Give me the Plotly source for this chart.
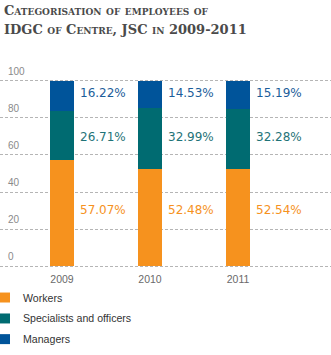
import plotly.graph_objects as go

# Share of each staff category by year, %
years = ["2009", "2010", "2011"]
workers = [57.07, 52.48, 52.54]
specialists = [26.71, 32.99, 32.28]
managers = [16.22, 14.53, 15.19]
y_ticks = [0, 20, 40, 60, 80, 100]

series_names = ["Workers", "Specialists and officers", "Managers"]
series_values = [workers, specialists, managers]
series_colors = ["#F6921E", "#006B71", "#00549A"]
label_colors = ["#F6921E", "#1F7378", "#1C5D9A"]
# vertical placement (in axis units) of the value labels for each series
label_levels = [30.5, 69.7, 93.3]

title_lines = ["Categorisation of employees of", "IDGC of Centre, JSC in 2009-2011"]

W, H = 331, 355
Y_MIN, Y_MAX = -2, 102
PX_PER_UNIT = 1.86
ZERO_PX = 266.7
PLOT_TOP = ZERO_PX - Y_MAX * PX_PER_UNIT
PLOT_BOTTOM = ZERO_PX - Y_MIN * PX_PER_UNIT


def paper_y(py):
    return (PLOT_BOTTOM - py) / (PLOT_BOTTOM - PLOT_TOP)


fig = go.Figure()
for name, vals, col in zip(series_names, series_values, series_colors):
    fig.add_trace(go.Bar(
        x=years, y=vals, name=name, marker=dict(color=col, line=dict(width=0)),
        width=0.273, showlegend=False, hoverinfo="skip",
    ))

annotations = []
for vals, col, lvl in zip(series_values, label_colors, label_levels):
    for i, v in enumerate(vals):
        annotations.append(dict(
            x=i, y=lvl, xref="x", yref="y", text=f"{v:.2f}%",
            showarrow=False, xanchor="left", yanchor="middle", xshift=16,
            font=dict(family="DejaVu Sans", size=12, color=col),
        ))

# y-axis labels sit just above their gridlines at the left edge
for t in y_ticks:
    annotations.append(dict(
        x=6 / W, y=t, xref="paper", yref="y", text=str(t),
        showarrow=False, xanchor="left", yanchor="bottom", yshift=2,
        font=dict(family="Liberation Sans, Arial", size=10, color="#8A8A8A"),
    ))

# legend rows: colour square plus caption
shapes = []
legend_rows = [298, 319, 339.7]
for name, col, cy in zip(series_names, series_colors, legend_rows):
    shapes.append(dict(
        type="rect", xref="paper", yref="paper",
        x0=0, x1=10 / W, y0=paper_y(cy + 5), y1=paper_y(cy - 5),
        fillcolor=col, line=dict(width=0),
    ))
    annotations.append(dict(
        x=21 / W, y=paper_y(cy), xref="paper", yref="paper", text=name,
        showarrow=False, xanchor="left", yanchor="middle",
        font=dict(family="Liberation Sans, Arial", size=10.6, color="#333333"),
    ))

# two-line heading in small caps
for line, base in zip(title_lines, [15.5, 34.8]):
    annotations.append(dict(
        x=0.005, y=paper_y(base - 5), xref="paper", yref="paper",
        text=line, showarrow=False, xanchor="left", yanchor="middle",
        font=dict(family="DejaVu Serif", size=13, color="#4A4A4A", weight="bold",
                  variant="small-caps"),
    ))

fig.update_layout(
    width=W, height=H,
    margin=dict(l=0, r=0, t=PLOT_TOP, b=H - PLOT_BOTTOM, pad=0),
    paper_bgcolor="white", plot_bgcolor="white",
    barmode="stack", bargap=0,
    xaxis=dict(
        type="category", range=[-62 / 88, (W - 62) / 88],
        showgrid=False, zeroline=False, showline=False, ticks="",
        tickfont=dict(family="Liberation Sans, Arial", size=10.5, color="#6A6A6A"),
        ticklabelstandoff=1,
    ),
    yaxis=dict(
        range=[Y_MIN, Y_MAX], tickvals=y_ticks, showticklabels=False,
        showgrid=True, gridcolor="#B5B5B5", griddash="3px,2px", gridwidth=1,
        zeroline=False, showline=False, ticks="",
    ),
    annotations=annotations, shapes=shapes,
)

fig.write_html("out.html")
